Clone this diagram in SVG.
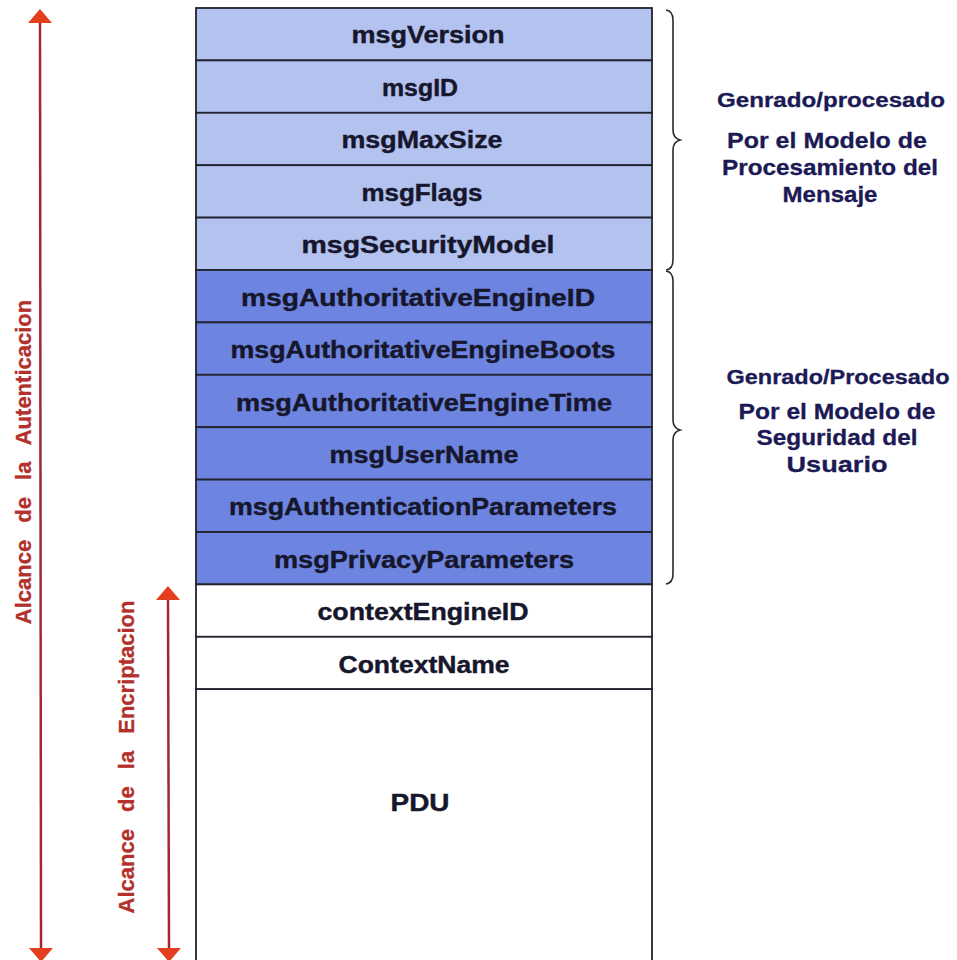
<svg xmlns="http://www.w3.org/2000/svg" width="957" height="960" viewBox="0 0 957 960">
  <defs>
    <style>
      .row-light { fill: #b4c2ef; stroke: #23232f; stroke-width: 1.8; }
      .row-dark { fill: #6d85e0; stroke: #23232f; stroke-width: 1.8; }
      .row-plain { fill: #ffffff; stroke: #23232f; stroke-width: 1.8; }
      .field { font-family: "Liberation Sans", Arial, sans-serif; font-weight: bold; font-size: 23px; fill: #16162c; stroke: #16162c; stroke-width: 0.4; text-anchor: middle; }
      .note { font-family: "Liberation Sans", Arial, sans-serif; font-weight: bold; font-size: 22px; fill: #1c1a55; stroke: #1c1a55; stroke-width: 0.3; text-anchor: middle; }
      .note-head { font-size: 20px; }
      .scope { font-family: "Liberation Sans", Arial, sans-serif; font-weight: bold; font-size: 22px; fill: #b3302b; stroke: #b3302b; stroke-width: 0.3; text-anchor: middle; word-spacing: 11px; }
      .span { stroke: #a3282b; stroke-width: 2.5; fill: none; }
      .brace { stroke: #2a2a2a; stroke-width: 1.6; fill: none; }
    </style>
    <marker id="head" markerUnits="userSpaceOnUse" markerWidth="15" markerHeight="26" viewBox="0 0 15 26" refX="0" refY="13" orient="auto-start-reverse">
      <path d="M0,1 L14,13 L0,25 Z" fill="#e33f1f"/>
    </marker>
  </defs>

  <rect width="957" height="960" fill="#ffffff"/>

  <!-- message header fields -->
  <g id="msgVersion"><rect class="row-light" x="196" y="8" width="456" height="52.4"/><text class="field" x="428" y="43" textLength="153" lengthAdjust="spacingAndGlyphs">msgVersion</text></g>
  <g id="msgID"><rect class="row-light" x="196" y="60.4" width="456" height="52.4"/><text class="field" x="420" y="95.6" textLength="76" lengthAdjust="spacingAndGlyphs">msgID</text></g>
  <g id="msgMaxSize"><rect class="row-light" x="196" y="112.8" width="456" height="52.4"/><text class="field" x="422" y="148.4" textLength="161" lengthAdjust="spacingAndGlyphs">msgMaxSize</text></g>
  <g id="msgFlags"><rect class="row-light" x="196" y="165.2" width="456" height="52.4"/><text class="field" x="422" y="200.8" textLength="121" lengthAdjust="spacingAndGlyphs">msgFlags</text></g>
  <g id="msgSecurityModel"><rect class="row-light" x="196" y="217.6" width="456" height="52.4"/><text class="field" x="428" y="253.2" textLength="253" lengthAdjust="spacingAndGlyphs">msgSecurityModel</text></g>

  <!-- security parameters -->
  <g id="msgAuthoritativeEngineID"><rect class="row-dark" x="196" y="270" width="456" height="52.4"/><text class="field" x="418" y="305.8" textLength="354" lengthAdjust="spacingAndGlyphs">msgAuthoritativeEngineID</text></g>
  <g id="msgAuthoritativeEngineBoots"><rect class="row-dark" x="196" y="322.4" width="456" height="52.4"/><text class="field" x="423" y="358.2" textLength="385" lengthAdjust="spacingAndGlyphs">msgAuthoritativeEngineBoots</text></g>
  <g id="msgAuthoritativeEngineTime"><rect class="row-dark" x="196" y="374.8" width="456" height="52.4"/><text class="field" x="424" y="410.6" textLength="376" lengthAdjust="spacingAndGlyphs">msgAuthoritativeEngineTime</text></g>
  <g id="msgUserName"><rect class="row-dark" x="196" y="427.2" width="456" height="52.4"/><text class="field" x="424" y="463" textLength="189" lengthAdjust="spacingAndGlyphs">msgUserName</text></g>
  <g id="msgAuthenticationParameters"><rect class="row-dark" x="196" y="479.6" width="456" height="52.4"/><text class="field" x="423" y="515.4" textLength="388" lengthAdjust="spacingAndGlyphs">msgAuthenticationParameters</text></g>
  <g id="msgPrivacyParameters"><rect class="row-dark" x="196" y="532" width="456" height="52.4"/><text class="field" x="424" y="567.8" textLength="300" lengthAdjust="spacingAndGlyphs">msgPrivacyParameters</text></g>

  <!-- scoped PDU -->
  <g id="contextEngineID"><rect class="row-plain" x="196" y="584.4" width="456" height="52.4"/><text class="field" x="423" y="620.2" textLength="211" lengthAdjust="spacingAndGlyphs">contextEngineID</text></g>
  <g id="ContextName"><rect class="row-plain" x="196" y="636.8" width="456" height="52.4"/><text class="field" x="424" y="672.6" textLength="171" lengthAdjust="spacingAndGlyphs">ContextName</text></g>
  <g id="PDU"><path class="row-plain" d="M196,961 V689.2 H652 V961"/><text class="field" x="420" y="811" textLength="59" lengthAdjust="spacingAndGlyphs">PDU</text></g>

  <!-- scope arrows and braces -->
  <g id="connectors">
    <line class="span" x1="40" y1="23" x2="41" y2="948" marker-start="url(#head)" marker-end="url(#head)"/>
    <line class="span" x1="168" y1="600" x2="169" y2="948" marker-start="url(#head)" marker-end="url(#head)"/>
    <path class="brace" d="M666,10 Q673,11 673,20 V130 Q673,138 680,140 Q673,142 673,150 V260 Q673,269 666,270"/>
    <path class="brace" d="M666,271 Q673,272 673,281 V420 Q673,428 680,430 Q673,432 673,440 V574 Q673,583 666,584"/>
  </g>

  <!-- scope labels -->
  <g id="scope-auth"><text class="scope" transform="translate(31,462) rotate(-90)">Alcance de la Autenticacion</text></g>
  <g id="scope-enc"><text class="scope" transform="translate(134,757) rotate(-90)">Alcance de la Encriptacion</text></g>

  <!-- brace notes -->
  <g id="note-processing">
    <text class="note note-head" x="831" y="107" textLength="228" lengthAdjust="spacingAndGlyphs">Genrado/procesado</text>
    <text class="note" x="827" y="148" textLength="200" lengthAdjust="spacingAndGlyphs">Por el Modelo de</text>
    <text class="note" x="830" y="175" textLength="216" lengthAdjust="spacingAndGlyphs">Procesamiento del</text>
    <text class="note" x="830" y="202" textLength="95" lengthAdjust="spacingAndGlyphs">Mensaje</text>
  </g>
  <g id="note-security">
    <text class="note note-head" x="838" y="384" textLength="223" lengthAdjust="spacingAndGlyphs">Genrado/Procesado</text>
    <text class="note" x="837" y="419" textLength="197" lengthAdjust="spacingAndGlyphs">Por el Modelo de</text>
    <text class="note" x="837" y="445" textLength="161" lengthAdjust="spacingAndGlyphs">Seguridad del</text>
    <text class="note" x="837" y="472" textLength="101" lengthAdjust="spacingAndGlyphs">Usuario</text>
  </g>
</svg>
